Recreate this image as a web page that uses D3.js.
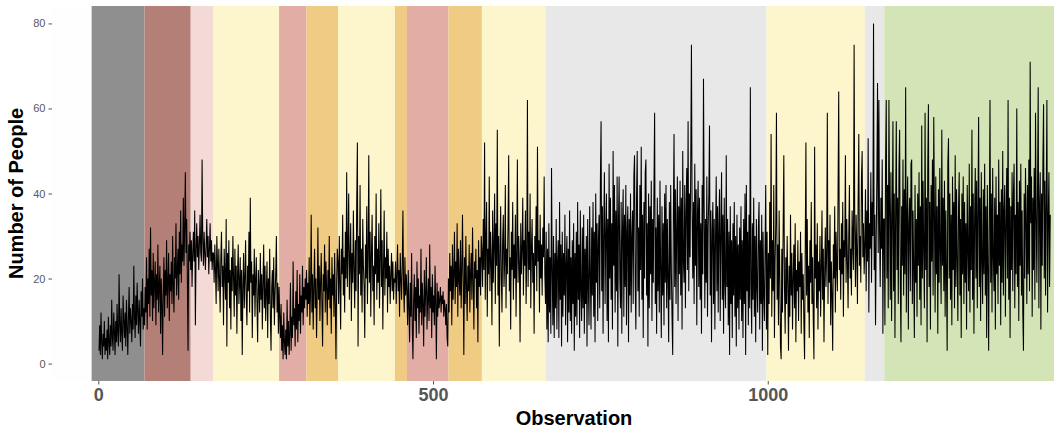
<!DOCTYPE html>
<html>
<head>
<meta charset="utf-8">
<script src="https://cdn.jsdelivr.net/npm/d3@7"></script>
<style>
  body { margin: 0; background: #ffffff; }
  svg { display: block; font-family: "Liberation Sans", Arial, Helvetica, sans-serif; }
</style>
</head>
<body>
<div id="chart"></div>
<script>
// Phase bands: start observation of each phase and its fill colour
const phaseStarts = [-10, 69, 138, 172, 270, 311, 358, 443, 461, 523, 573, 668, 998, 1145, 1174];
const phaseEnd = 1430;
const phaseColors = [
    "#8f8f8f", "#b47f76", "#f3dad6", "#fdf6cc", "#e1ada5", "#f0cb83", "#fdf6cc", "#f0cb83",
    "#e1ada5", "#f0cb83", "#fdf6cc", "#e8e8e8", "#fdf6cc", "#e8e8e8", "#d3e5b6"
];

// Number of people per observation, one array per phase
const phase1 = [3,9,2,12,5,1,7,4,10,2, 6,3,8,1,11,5,2,9,4,15, 6,3,12,8,2,10,5,14,7,4,
    21,9,5,13,7,3,16,10,6,12, 4,15,9,2,11,18,7,13,10,5, 14,8,23,11,6,16,9,19,12,7, 15,10,4,17,11,20,8,13];
const phase2 = [9,18,12,25,8,20,14,27,11,32, 16,22,10,26,13,19,24,9,21,15, 28,12,18,23,7,20,14,2,17,25,
    11,22,16,29,13,19,26,10,21,17, 24,14,30,18,12,25,20,33,16,22, 27,15,31,21,36,19,28,24,39,23, 32,45,26,34,20,3,28,24,31];
const phase3 = [22,29,18,26,31,24,36,9,27,33, 25,30,22,28,35,26,24,48,29,23, 31,26,22,28,34,25,30,21,27,33, 24,29,22,26];
const phase4 = [26,19,28,22,14,30,24,17,27,20, 12,25,31,18,23,9,27,21,15,34, 4,26,19,29,13,22,8,25,17,30,
    20,11,27,16,23,7,21,28,14,19, 25,10,22,2,18,26,13,20,29,15, 9,23,17,31,12,39,19,24,6,21,
    16,27,11,20,25,14,5,22,18,12, 26,15,21,8,19,28,13,23,10,17, 24,6,20,14,27,11,3,18,22,13, 25,9,16,21,30,12,19,7];
const phase5 = [18,11,6,14,3,9,1,12,5,2, 8,1,15,4,10,2,7,19,3,11, 6,24,9,13,4,17,8,22,5,14, 10,21,7,16,12,23,9,18,13,20, 15];
const phase6 = [22,11,19,14,25,9,17,35,12,21, 8,18,27,13,20,6,16,32,15,23, 10,19,26,14,4,21,17,28,12,24,
    18,9,22,15,30,13,20,7,25,16, 21,11,26,14,1,19,27];
const phase7 = [24,14,30,19,8,27,21,35,16,25, 12,31,20,45,18,28,40,15,24,33, 10,26,19,36,22,13,29,17,38,52,
    4,30,21,42,16,27,12,34,23,18, 6,28,20,37,14,25,49,19,31,11, 26,35,17,23,9,30,21,40,15,27,
    19,33,13,24,41,18,29,8,22,36, 16,25,20,31,12,27,18,23,14,21, 26,17,24,15,20];
const phase8 = [19,24,14,21,28,17,22,11,26,20, 15,23,36,18,12,25,16,21];
const phase9 = [17,9,22,13,5,19,11,26,8,1, 15,21,10,18,6,24,13,20,7,16, 12,27,9,19,14,4,22,11,17,25,
    8,15,20,10,28,13,18,6,21,12, 16,9,23,14,1,19,11,17,13,15, 18,12,16,14,17,11,15,13,9,14, 6,4];
const phase10 = [20,12,26,17,23,9,28,15,21,31, 14,24,18,33,11,27,20,16,29,13, 22,35,19,2,25,14,30,18,10,23,
    17,28,12,21,26,15,32,19,8,24, 20,27,13,22,5,29,18,25,16,30];
const phase11 = [26,18,34,22,52,15,29,38,11,27, 21,44,17,31,24,9,36,19,28,40, 14,33,23,55,16,30,4,26,37,20,
    12,29,35,18,24,42,13,27,21,33, 49,17,25,8,31,22,38,15,28,20, 35,11,26,48,19,30,24,5,33,21,
    27,39,16,29,23,36,14,25,62,18, 31,22,40,13,27,34,19,26,7,30, 23,37,17,51,24,29,12,35,20,28, 16,32,25,44,21];
const phase12 = [14,31,8,27,5,33,12,25,7,46, 22,9,30,6,26,13,34,8,24,29, 6,38,15,28,4,31,11,26,16,35,
    9,23,30,5,27,12,36,10,25,7, 29,14,33,3,26,11,31,9,38,15, 28,6,36,17,10,32,13,35,7,27,
    14,30,4,34,18,9,37,21,8,32, 16,38,11,31,5,40,19,33,10,29, 35,13,43,57,17,37,7,32,45,14,
    30,40,10,34,5,47,20,39,15,33, 8,50,23,42,12,36,17,44,4,34, 44,20,13,38,7,32,41,11,35,18,
    42,9,31,37,5,34,16,40,12,30, 36,14,44,49,19,8,39,50,17,32, 11,42,22,51,15,35,6,38,20,45,
    48,16,33,4,40,13,37,21,43,10, 34,19,41,59,14,32,7,39,17,35, 12,43,21,6,37,16,33,9,40,19,
    42,13,34,20,5,38,15,42,22,11, 2,35,54,18,41,14,32,44,10,37, 21,43,16,39,8,50,24,19,42,13,
    36,46,22,57,17,40,25,48,75,36, 20,38,14,47,23,41,9,35,43,18, 39,15,33,7,42,21,67,37,13,34,
    19,44,11,32,40,56,16,36,5,31, 38,14,34,8,30,44,17,37,12,33, 41,10,31,45,15,35,7,39,19,13,
    49,18,34,9,31,2,37,14,29,6, 33,16,38,11,30,4,35,13,28,8, 32,15,37,10,29,6,34,14,40,2,
    42,17,31,9,35,13,65,19,7,33, 15,39,11,30,5,34,18,12,32,38, 8,29,14,35,3,31,16,10,28,42];
const phase13 = [8,31,2,26,14,38,20,54,11,29, 17,42,6,24,33,59,15,28,9,36, 21,4,1,27,12,32,49,18,7,25,
    14,30,19,3,23,11,35,16,26,8, 20,28,13,33,5,22,17,29,10,24, 18,31,7,26,15,21,9,1,27,52,
    16,34,12,23,6,29,19,38,14,25, 10,1,51,20,28,13,33,8,24,17, 30,11,22,36,15,27,5,21,32,18,
    26,59,14,29,19,35,9,24,16,3, 28,20,37,12,31,23,17,40,64,22, 27,15,33,21,38,11,29,25,49,19,
    34,24,13,30,42,20,27,16,36,28, 22,75,31,18,35,26,14,39,54,23, 30,19,44,50,25,33,21];
const phase14 = [28,41,17,36,24,53,12,33,27,45, 19,38,30,80,22,35,9,29,44,66, 26,62,31,18,39,27,48,7,34];
const phase15 = [34,9,47,62,20,42,13,62,37,15, 45,10,33,57,17,40,6,35,57,22, 39,14,46,55,19,5,37,23,48,16,
    41,21,65,12,35,44,8,33,39,17, 47,48,14,36,22,6,42,19,34,11, 40,23,45,15,37,9,56,20,43,26,
    13,59,22,39,5,46,61,18,38,8, 42,24,48,16,58,35,12,44,21,37, 7,41,19,46,26,14,55,23,39,17,
    43,11,36,21,3,47,53,20,40,15, 35,9,44,22,38,13,49,18,41,24, 10,37,45,16,34,6,40,21,44,14,
    38,19,33,8,42,27,17,47,12,37, 22,55,15,40,7,34,46,20,43,13, 36,58,18,39,10,45,24,14,41,21,
    47,16,37,6,42,23,3,34,62,19, 40,12,46,25,17,39,8,44,21,35, 14,48,23,38,9,41,19,50,16,36,
    42,11,33,46,20,62,15,39,6,37, 22,45,17,40,47,13,35,21,60,18, 38,10,43,23,47,16,36,12,3,40,
    20,46,34,14,42,21,48,17,71,33, 44,11,39,22,46,15,59,35,19,41, 65,13,37,45,8,40,23,47,61,20,
    43,16,38,62,12,34,45,18,35];

const xTicks = [0, 500, 1000];
const yTicks = [0, 20, 40, 60, 80];

// Join the phases into one series, observation numbers start at 1
const people = [].concat(phase1, phase2, phase3, phase4, phase5, phase6, phase7, phase8,
    phase9, phase10, phase11, phase12, phase13, phase14, phase15);
const series = people.map((v, i) => ({ obs: i + 1, value: v }));

const phases = phaseStarts.map((s, i) => ({
    start: s,
    end: i < phaseStarts.length - 1 ? phaseStarts[i + 1] : phaseEnd,
    color: phaseColors[i]
}));

const width = 1054;
const height = 431;
const margin = { top: 6, right: 0, bottom: 50, left: 52 };
const innerW = width - margin.left - margin.right;
const innerH = height - margin.top - margin.bottom;

const svg = d3
    .select("#chart")
    .append("svg")
    .attr("width", width)
    .attr("height", height);

const x = d3.scaleLinear().domain([-69.2, 1427.6]).range([margin.left, margin.left + innerW]);
const y = d3.scaleLinear().domain([-4.1, 84.1]).range([margin.top + innerH, margin.top]);

// Panel background (almost white)
svg.append("rect")
    .attr("x", margin.left)
    .attr("y", margin.top)
    .attr("width", innerW)
    .attr("height", innerH)
    .attr("fill", "#fefefe");

// Coloured phase bands, full panel height
svg.append("g")
    .selectAll("rect")
    .data(phases)
    .join("rect")
    .attr("x", (d) => x(d.start))
    .attr("width", (d) => Math.min(x(d.end), margin.left + innerW) - x(d.start))
    .attr("y", margin.top)
    .attr("height", innerH)
    .attr("fill", (d) => d.color);

// The series line
const line = d3.line()
    .x((d) => x(d.obs))
    .y((d) => y(d.value));

svg.append("path")
    .datum(series)
    .attr("d", line)
    .attr("fill", "none")
    .attr("stroke", "#000000")
    .attr("stroke-width", 1.05)
    .attr("stroke-linejoin", "miter");

// Y axis: small grey labels with short ticks
const yAxis = svg.append("g")
    .attr("transform", `translate(${margin.left},0)`)
    .call(d3.axisLeft(y).tickValues(yTicks).tickSize(3.5).tickPadding(3));
yAxis.select(".domain").remove();
yAxis.selectAll(".tick line").attr("stroke", "#555555");
yAxis.selectAll(".tick text")
    .attr("fill", "#595959")
    .style("font-size", "11px")
    .style("font-family", "'Liberation Sans', Arial, sans-serif");

// X axis: bold grey labels
const xAxis = svg.append("g")
    .attr("transform", `translate(0,${margin.top + innerH})`)
    .call(d3.axisBottom(x).tickValues(xTicks).tickFormat(d3.format("d")).tickSize(3.5).tickPadding(4));
xAxis.select(".domain").remove();
xAxis.selectAll(".tick line").attr("stroke", "#555555");
xAxis.selectAll(".tick text")
    .attr("fill", "#555555")
    .style("font-size", "18px")
    .style("font-weight", "bold")
    .style("font-family", "'Liberation Sans', Arial, sans-serif");

// Axis titles
svg.append("text")
    .attr("x", 574)
    .attr("y", 425)
    .attr("text-anchor", "middle")
    .style("font-size", "20px")
    .style("font-weight", "bold")
    .style("fill", "#000000")
    .text("Observation");

svg.append("text")
    .attr("transform", `translate(23,${margin.top + innerH / 2}) rotate(-90)`)
    .attr("text-anchor", "middle")
    .style("font-size", "20px")
    .style("font-weight", "bold")
    .style("fill", "#000000")
    .text("Number of People");
</script>
</body>
</html>
